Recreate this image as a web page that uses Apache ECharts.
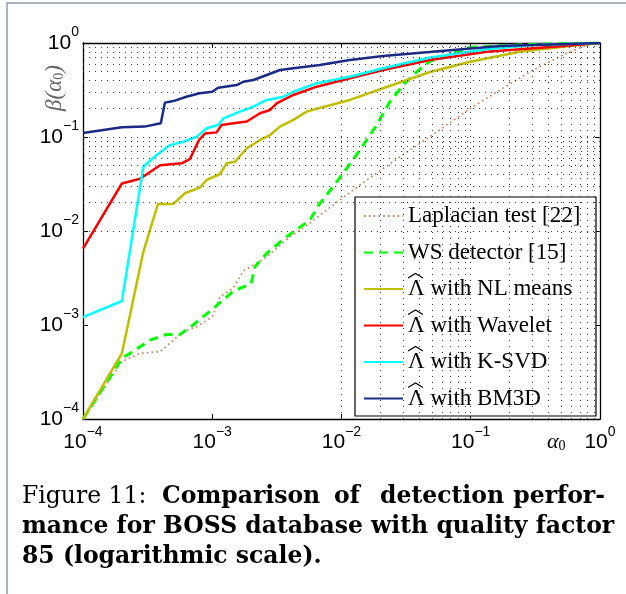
<!DOCTYPE html>
<html><head><meta charset="utf-8">
<script src="https://cdn.jsdelivr.net/npm/echarts@6/dist/echarts.min.js"></script>
<style>html,body{margin:0;padding:0;background:#fff}#c{width:626px;height:594px}</style>
</head><body><div id="c"></div>
<script>
// ---- data (alpha0, beta(alpha0)) ----
const seriesNames = ['Laplacian test [22]', 'WS detector [15]', 'NL means', 'Wavelet', 'K-SVD', 'BM3D'];
const hatted = [false, false, true, true, true, true];

const laplacian = [[1e-4,1e-4],[2e-4,4.07e-4],[2.76e-4,5.0e-4],[3.95e-4,5.2e-4],[5.0e-4,6.9e-4],[5.97e-4,8.5e-4],[7.58e-4,9.6e-4],[1.0e-3,1.22e-3],[1.15e-3,2.0e-3],[1.46e-3,2.48e-3],[1.74e-3,3.75e-3],[2.64e-3,5.3e-3],[4.0e-3,8.7e-3],[5.7e-3,1.21e-2],[8.6e-3,1.89e-2],[1.57e-2,3.49e-2],[2.84e-2,6.17e-2],[5.1e-2,0.106],[9.86e-2,0.20],[0.168,0.316],[0.303,0.516],[0.553,0.777],[0.79,0.95],[1,1]];

const wsDetector = [[1e-4,1e-4],[2e-4,4.4e-4],[3.3e-4,6.9e-4],[4.4e-4,7.9e-4],[5.6e-4,7.9e-4],[7.1e-4,1.0e-3],[1.02e-3,1.5e-3],[1.46e-3,2.3e-3],[2.0e-3,2.75e-3],[2.14e-3,4.17e-3],[2.64e-3,5.8e-3],[3.77e-3,8.7e-3],[5.7e-3,1.31e-2],[6.8e-3,1.97e-2],[8.6e-3,2.96e-2],[1.1e-2,4.65e-2],[1.39e-2,7.28e-2],[1.87e-2,0.134],[2.37e-2,0.237],[3.0e-2,0.357],[3.82e-2,0.495],[4.84e-2,0.64],[9.86e-2,0.90],[0.3,0.97],[1,1]];

const nlMeans = [[1e-4,1e-4],[2e-4,5e-4],[2.93e-4,6e-3],[3.8e-4,1.94e-2],[5e-4,1.94e-2],[6.15e-4,2.52e-2],[8e-4,2.89e-2],[9.06e-4,3.49e-2],[1.15e-3,4.04e-2],[1.29e-3,5.25e-2],[1.5e-3,5.46e-2],[1.85e-3,7.59e-2],[2.34e-3,9.3e-2],[2.8e-3,0.105],[3.34e-3,0.129],[4.24e-3,0.152],[5.38e-3,0.186],[6.43e-3,0.20],[1.16e-2,0.248],[2.1e-2,0.33],[4.84e-2,0.491],[9.86e-2,0.633],[0.24,0.808],[0.586,0.929],[1,1]];

const wavelet = [[1e-4,6.5e-3],[2e-4,3.2e-2],[2.76e-4,3.6e-2],[3.95e-4,5.0e-2],[5.8e-4,5.25e-2],[6.7e-4,5.8e-2],[7.9e-4,9.3e-2],[8.8e-4,0.109],[1.08e-3,0.112],[1.18e-3,0.134],[1.46e-3,0.140],[1.85e-3,0.146],[2.34e-3,0.179],[2.8e-3,0.194],[3.15e-3,0.228],[3.55e-3,0.248],[4.24e-3,0.280],[6.43e-3,0.343],[1.16e-2,0.421],[2.1e-2,0.516],[4.84e-2,0.659],[0.133,0.808],[0.436,0.914],[1,1]];

const ksvd = [[1e-4,1.21e-3],[2e-4,1.8e-3],[2.93e-4,4.83e-2],[3.72e-4,6.44e-2],[4.71e-4,8.2e-2],[5.97e-4,8.9e-2],[7.58e-4,0.101],[9.06e-4,0.124],[1.11e-3,0.134],[1.22e-3,0.158],[1.64e-3,0.186],[2.08e-3,0.21],[2.64e-3,0.248],[3.55e-3,0.268],[4.24e-3,0.303],[6.43e-3,0.373],[1.16e-2,0.438],[2.1e-2,0.538],[4.84e-2,0.70],[0.133,0.86],[0.3,0.95],[1,1]];

const bm3d = [[1e-4,0.110],[2e-4,0.127],[3e-4,0.129],[4e-4,0.140],[4.3e-4,0.232],[5e-4,0.241],[6.3e-4,0.268],[8e-4,0.292],[1e-3,0.303],[1.11e-3,0.334],[1.55e-3,0.357],[1.74e-3,0.387],[2.08e-3,0.404],[2.64e-3,0.457],[3.34e-3,0.516],[4.24e-3,0.538],[6.8e-3,0.583],[1.16e-2,0.659],[2.1e-2,0.727],[4.8e-2,0.80],[0.168,0.93],[1,1]];

// ---- ticks ----
const xTickValues = [1e-4, 1e-3, 1e-2, 1e-1, 1];
const xTickExponents = ['−4', '−3', '−2', '−1', '0'];
const yTickValues = [1e-4, 1e-3, 1e-2, 1e-1, 1];
const yTickExponents = ['−4', '−3', '−2', '−1', '0'];

// grid line positions (major + minor decades)
const gridValues = [];
[1e-4, 1e-3, 1e-2, 1e-1].forEach(d => { for (let m = 1; m <= 9; m++) { if (!(d === 1e-4 && m === 1)) gridValues.push(m * d); } });

function lbl(values, exps) {
  return function (v) {
    let i = 0, best = 1e9;
    values.forEach((t, k) => { const dd = Math.abs(Math.log10(t) - Math.log10(v)); if (dd < best) { best = dd; i = k; } });
    return '{b|10}{e|' + exps[i] + '}';
  };
}
const richLbl = {
  b: { fontFamily: 'Liberation Sans', fontSize: 21, color: '#000', padding: [7, 0, 7, 0], verticalAlign: 'middle' },
  e: { fontFamily: 'Liberation Sans', fontSize: 14, color: '#000', lineHeight: 16, verticalAlign: 'top' }
};

const chart = echarts.init(document.getElementById('c'), null, { renderer: 'canvas' });
const axisCommon = {
  type: 'log', logBase: 10, min: 1e-4, max: 1,
  axisLine: { show: true, onZero: false, lineStyle: { color: '#000', width: 1.3 } },
  axisTick: { show: true, inside: true, length: 5, lineStyle: { color: '#000', width: 1 } },
  splitLine: { show: false }
};

const lineSeries = (name, data, color, extra) => Object.assign({
  type: 'line', name: name, data: data, symbol: 'none', showSymbol: false,
  xAxisIndex: 0, yAxisIndex: 0, animation: false,
  lineStyle: { color: color, width: 2.5 }, itemStyle: { color: color }
}, extra || {});

const serif = 'Liberation Serif';
const capFont = 'DejaVu Serif';
const capSize = 23.5;

// legend layout
const legLeft = 363, legTop = 203, legItemH = 26, legGap = 10.5;
const hats = [];
hatted.forEach((h, i) => {
  if (!h) return;
  const cy = legTop + legItemH / 2 + i * (legItemH + legGap);
  const x0 = legLeft + 39 + 5 + 1;
  hats.push({ type: 'polyline', z: 6, shape: { points: [[x0, cy - 11], [x0 + 7.5, cy - 15.5], [x0 + 15, cy - 11]] },
    style: { stroke: '#000', lineWidth: 1.1, fill: 'none' } });
});

chart.setOption({
  animation: false,
  grid: { left: 83, right: 26, top: 43, bottom: 175, containLabel: false },
  xAxis: [
    Object.assign({}, axisCommon, { position: 'bottom',
      axisLabel: { formatter: lbl(xTickValues, xTickExponents), rich: richLbl, margin: 6 } }),
    Object.assign({}, axisCommon, { position: 'top', axisLabel: { show: false } })
  ],
  yAxis: [
    Object.assign({}, axisCommon, { position: 'left',
      axisLabel: { formatter: lbl(yTickValues, yTickExponents), rich: richLbl, margin: 4 } }),
    Object.assign({}, axisCommon, { position: 'right', axisLabel: { show: false } })
  ],
  legend: {
    orient: 'vertical', left: legLeft, top: legTop, itemWidth: 39, itemHeight: 14, itemGap: legGap,
    data: seriesNames, padding: 0,
    itemStyle: { opacity: 0 },
    formatter: function (name) {
      const i = seriesNames.indexOf(name);
      return hatted[i] ? 'Λ with ' + name : name;
    },
    textStyle: { fontFamily: serif, fontSize: 23, color: '#000', lineHeight: legItemH }
  },
  graphic: [
    { type: 'rect', z: 0, shape: { x: 7, y: 3, width: 700, height: 700 }, style: { fill: 'none', stroke: '#8C9DB3', lineWidth: 1.5 } },
    { type: 'rect', z: 3, shape: { x: 355, y: 197, width: 241, height: 219 }, style: { fill: '#fff', stroke: '#000', lineWidth: 1.2 } },
    { type: 'text', z: 5, x: 55, y: 88, rotation: Math.PI / 2,
      style: { text: '{i|β(α}{s|0}{i|)}', align: 'center', verticalAlign: 'middle',
        rich: { i: { fontFamily: serif, fontStyle: 'italic', fontSize: 23, fill: '#666' },
                s: { fontFamily: serif, fontSize: 14, fill: '#666', verticalAlign: 'bottom', padding: [8, 0, 0, 0] } } } },
    { type: 'text', z: 5, x: 547, y: 442,
      style: { text: '{i|α}{s|0}', align: 'left', verticalAlign: 'middle',
        rich: { i: { fontFamily: serif, fontStyle: 'italic', fontSize: 22, fill: '#000' },
                s: { fontFamily: serif, fontSize: 14, fill: '#000', verticalAlign: 'bottom', padding: [8, 0, 0, 0] } } } },
    { type: 'text', z: 5, x: 22, y: 497, style: { text: 'Figure 11:', fontFamily: capFont, fontSize: capSize, fill: '#000', verticalAlign: 'middle' } },
    { type: 'text', z: 5, x: 162, y: 497, style: { text: 'Comparison', fontFamily: capFont, fontWeight: 'bold', fontSize: capSize, fill: '#000', verticalAlign: 'middle' } },
    { type: 'text', z: 5, x: 334, y: 497, style: { text: 'of', fontFamily: capFont, fontWeight: 'bold', fontSize: capSize, fill: '#000', verticalAlign: 'middle' } },
    { type: 'text', z: 5, x: 380, y: 497, style: { text: 'detection', fontFamily: capFont, fontWeight: 'bold', fontSize: capSize, fill: '#000', verticalAlign: 'middle' } },
    { type: 'text', z: 5, x: 605, y: 497, style: { text: 'perfor-', fontFamily: capFont, fontWeight: 'bold', fontSize: capSize, fill: '#000', align: 'right', verticalAlign: 'middle' } },
    { type: 'text', z: 5, x: 22, y: 527, style: { text: 'mance for BOSS database with quality factor', fontFamily: capFont, fontWeight: 'bold', fontSize: capSize, fill: '#000', verticalAlign: 'middle' } },
    { type: 'text', z: 5, x: 22, y: 557, style: { text: '85 (logarithmic scale).', fontFamily: capFont, fontWeight: 'bold', fontSize: capSize, fill: '#000', verticalAlign: 'middle' } }
  ].concat(hats),
  series: [
    { type: 'line', data: [[1e-4, 1e-4]], symbol: 'none', lineStyle: { opacity: 0 }, silent: true, z: 1,
      markLine: { silent: true, symbol: 'none', animation: false, label: { show: false },
        lineStyle: { color: '#3a3a3a', type: [1, 5], width: 1 },
        data: gridValues.map(v => ({ xAxis: v })).concat(gridValues.map(v => ({ yAxis: v }))) } },
    lineSeries(seriesNames[0], laplacian, '#C47A52', { lineStyle: { color: '#C47A52', width: 1.6, type: [1.6, 3.2] } }),
    lineSeries(seriesNames[1], wsDetector, '#00FF00', { lineStyle: { color: '#00FF00', width: 3, type: [9, 6] } }),
    lineSeries(seriesNames[2], nlMeans, '#BFBF00'),
    lineSeries(seriesNames[3], wavelet, '#FF0000'),
    lineSeries(seriesNames[4], ksvd, '#00FFFF'),
    lineSeries(seriesNames[5], bm3d, '#1B2A84')
  ]
});
</script></body></html>
